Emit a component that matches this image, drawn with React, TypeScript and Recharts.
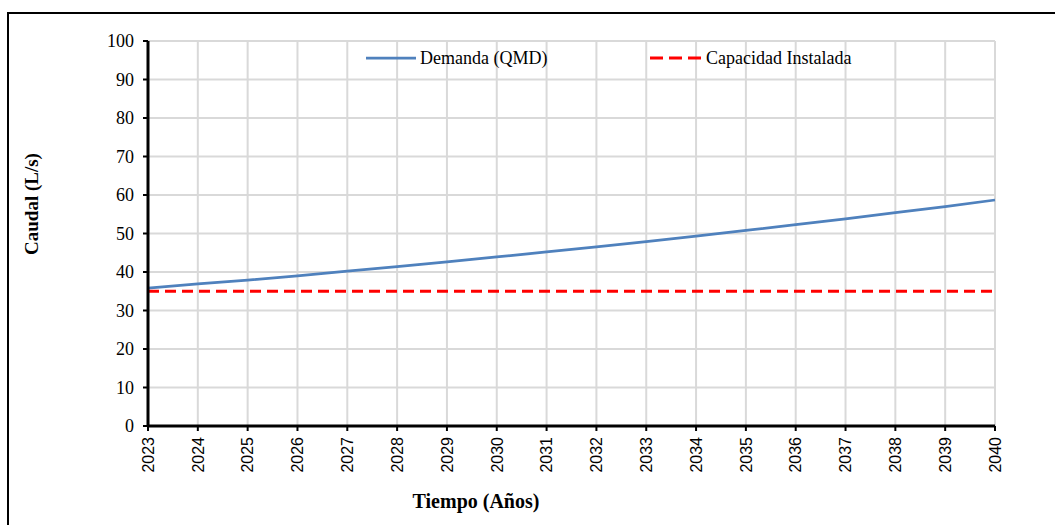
import React from "react"
import { LineChart, Line, XAxis, YAxis, CartesianGrid } from "recharts"

const years = [2023, 2024, 2025, 2026, 2027, 2028, 2029, 2030, 2031, 2032, 2033, 2034, 2035, 2036, 2037, 2038, 2039, 2040]
const demanda = [35.8, 36.9, 37.9, 39.0, 40.2, 41.4, 42.6, 43.9, 45.2, 46.5, 47.9, 49.3, 50.8, 52.3, 53.8, 55.4, 57.0, 58.7]
const capacidad = [35, 35, 35, 35, 35, 35, 35, 35, 35, 35, 35, 35, 35, 35, 35, 35, 35, 35]
const yTicks = [0, 10, 20, 30, 40, 50, 60, 70, 80, 90, 100]

const data = years.map((y, i) => ({ year: y, demanda: demanda[i], capacidad: capacidad[i] }))

const serif = "'Liberation Serif', 'Times New Roman', serif"
const sans = "'Liberation Sans', Arial, sans-serif"

const XTick = (props: any) => {
    const { x, payload } = props
    const y = 437
    return (
        <text x={x} y={y} transform={`rotate(-90 ${x} ${y})`} textAnchor="end" dy="0.36em"
            fontFamily={sans} fontSize={16} fill="#000">
            {payload.value}
        </text>
    )
}

export default function App() {
    return (
        <div style={{ position: "absolute", left: 0, top: 0, width: 1055, height: 525, background: "#fff", overflow: "hidden" }}>
            <div style={{ position: "absolute", left: 7, top: 12, width: 1060, height: 530, borderTop: "2.5px solid #000", borderLeft: "2.5px solid #000" }} />
            <div style={{ position: "absolute", left: 0, top: 0 }}>
                <LineChart width={1055} height={525} data={data} margin={{ top: 41, right: 60, bottom: 0, left: 0 }}>
                    <CartesianGrid stroke="#d9d9d9" strokeWidth={2} />
                    <XAxis dataKey="year" height={99} tick={<XTick />} interval={0}
                        axisLine={{ stroke: "#000", strokeWidth: 3 }} tickLine={{ stroke: "#000", strokeWidth: 2 }} tickSize={5} />
                    <YAxis width={148} domain={[0, 100]} ticks={yTicks} interval={0}
                        tick={{ fontFamily: serif, fontSize: 18, fill: "#000" }}
                        axisLine={{ stroke: "#000", strokeWidth: 3 }} tickLine={{ stroke: "#000", strokeWidth: 2 }} tickSize={5} tickMargin={9} />
                    <Line dataKey="demanda" stroke="#4f81bd" strokeWidth={2.75} dot={false} isAnimationActive={false} />
                    <Line dataKey="capacidad" stroke="#ff0000" strokeWidth={3} strokeDasharray="11 6" dot={false} isAnimationActive={false} />
                </LineChart>
            </div>
            <div style={{ position: "absolute", left: 0, top: 47, width: 1055, height: 24, fontFamily: serif, fontSize: 18, color: "#000" }}>
                <svg style={{ position: "absolute", left: 366, top: 8 }} width={50} height={6}>
                    <line x1={0} y1={3} x2={50} y2={3} stroke="#4f81bd" strokeWidth={2.75} />
                </svg>
                <span style={{ position: "absolute", left: 420, top: 0, lineHeight: "22px" }}>Demanda (QMD)</span>
                <svg style={{ position: "absolute", left: 650, top: 8 }} width={52} height={6}>
                    <line x1={0} y1={3} x2={52} y2={3} stroke="#ff0000" strokeWidth={3} strokeDasharray="13 6" />
                </svg>
                <span style={{ position: "absolute", left: 706, top: 0, lineHeight: "22px" }}>Capacidad Instalada</span>
            </div>
            <div style={{ position: "absolute", left: 32, top: 204, transform: "translate(-50%, -50%) rotate(-90deg)", whiteSpace: "nowrap", fontFamily: serif, fontWeight: "bold", fontSize: 19 }}>
                Caudal (L/s)
            </div>
            <div style={{ position: "absolute", left: 476, top: 501, transform: "translate(-50%, -50%)", whiteSpace: "nowrap", fontFamily: serif, fontWeight: "bold", fontSize: 20 }}>
                Tiempo (Años)
            </div>
        </div>
    )
}
